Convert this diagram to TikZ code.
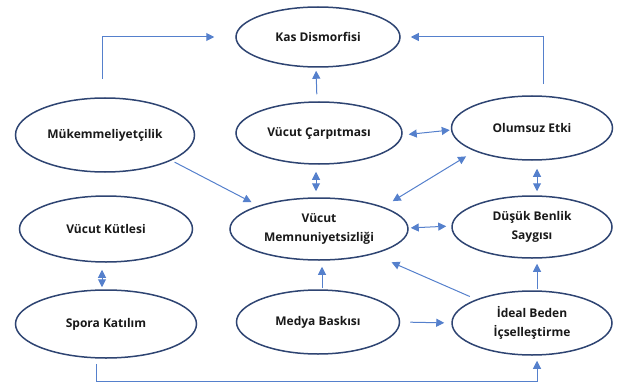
\documentclass[tikz,border=0pt]{standalone}
\usepackage{fontspec}
\setmainfont{Open Sans}
\usetikzlibrary{shapes.geometric,arrows.meta}
\definecolor{ellc}{HTML}{2E4472}
\definecolor{arrc}{HTML}{5580CC}
\tikzset{
  ell/.style={draw=ellc,line width=1.5pt,ellipse,inner sep=0pt,align=center,font=\bfseries\fontsize{12}{18.5}\selectfont,text=black!90},
  tip/.tip={Triangle[length=8pt,width=8pt]},
  conn/.style={draw=arrc,line width=1pt,-tip},
  bconn/.style={draw=arrc,line width=1pt,tip-tip}
}
\begin{document}
\begin{tikzpicture}[x=1pt,y=-1pt]
\useasboundingbox (0,0) rectangle (628,385);
\node[ell,minimum width=164pt,minimum height=60pt] (kas) at (318,37) {Kas Dismorfisi};
\node[ell,minimum width=179pt,minimum height=74pt] (muk) at (105,135) {Mükemmeliyetçilik};
\node[ell,minimum width=166pt,minimum height=62pt] (carp) at (319,133) {Vücut Çarpıtması};
\node[ell,minimum width=161pt,minimum height=64pt] (olum) at (532,128) {Olumsuz Etki};
\node[ell,minimum width=173pt,minimum height=66pt] (kut) at (106,229) {Vücut Kütlesi};
\node[ell,minimum width=178pt,minimum height=62pt] (memn) at (319,229) {Vücut\\Memnuniyetsizliği};
\node[ell,minimum width=160pt,minimum height=62pt] (dusuk) at (532,227) {Düşük Benlik\\Saygısı};
\node[ell,minimum width=181pt,minimum height=68pt] (spor) at (106,324) {Spora Katılım};
\node[ell,minimum width=163pt,minimum height=64pt] (medya) at (318,322) {Medya Baskısı};
\node[ell,minimum width=160pt,minimum height=64pt] (ideal) at (532,323) {İdeal Beden\\İçselleştirme};
% elbow connectors
\coordinate (botY) at (0,381);
\draw[conn,shorten <=18pt,shorten >=21pt] ([xshift=-3pt]muk.north) |- (kas.west);
\draw[conn,shorten <=11pt,shorten >=10pt] ([xshift=11pt]olum.north) |- (kas.east);
\draw[conn,shorten <=5pt,shorten >=5pt] ([xshift=-10pt]spor.south) |- ([xshift=5pt]botY -| ideal) -- ([xshift=5pt]ideal.south);
% vertical / horizontal
\draw[conn,shorten <=7pt,shorten >=3pt] ([xshift=-2pt]carp.north) -- ([xshift=-2pt]kas.south);
\draw[bconn,shorten <=6pt,shorten >=1pt] ([yshift=-2pt]carp.east) -- ([yshift=-2pt]olum.west);
\draw[bconn,shorten <=7pt,shorten >=6pt] ([xshift=-3pt]carp.south) -- ([xshift=-3pt]memn.north);
\draw[bconn,shorten <=8pt,shorten >=4pt] ([xshift=5pt]olum.south) -- ([xshift=5pt]dusuk.north);
\draw[bconn,shorten <=2pt,shorten >=5pt] ([yshift=1pt]memn.east) -- ([yshift=1pt]dusuk.west);
\draw[bconn,shorten <=7pt,shorten >=2pt] ([xshift=-4pt]kut.south) -- ([xshift=-4pt]spor.north);
\draw[conn,shorten <=1pt,shorten >=6pt] ([xshift=4pt]medya.north) -- ([xshift=3pt]memn.south);
\draw[conn,shorten <=10pt,shorten >=7pt] (medya.east) -- (ideal.west);
\draw[conn,shorten <=1pt,shorten >=5pt] ([xshift=5pt]ideal.north) -- ([xshift=5pt]dusuk.south);
% diagonals
\draw[conn,shorten <=3.5pt,shorten >=7.5pt] (muk.-21.4) -- (memn.159.2);
\draw[bconn,shorten <=10pt,shorten >=11pt] (olum.202) -- (memn.19.1);
\draw[conn,shorten <=7pt,shorten >=20pt] (ideal.157.8) -- (memn.-25.3);
\end{tikzpicture}
\end{document}
